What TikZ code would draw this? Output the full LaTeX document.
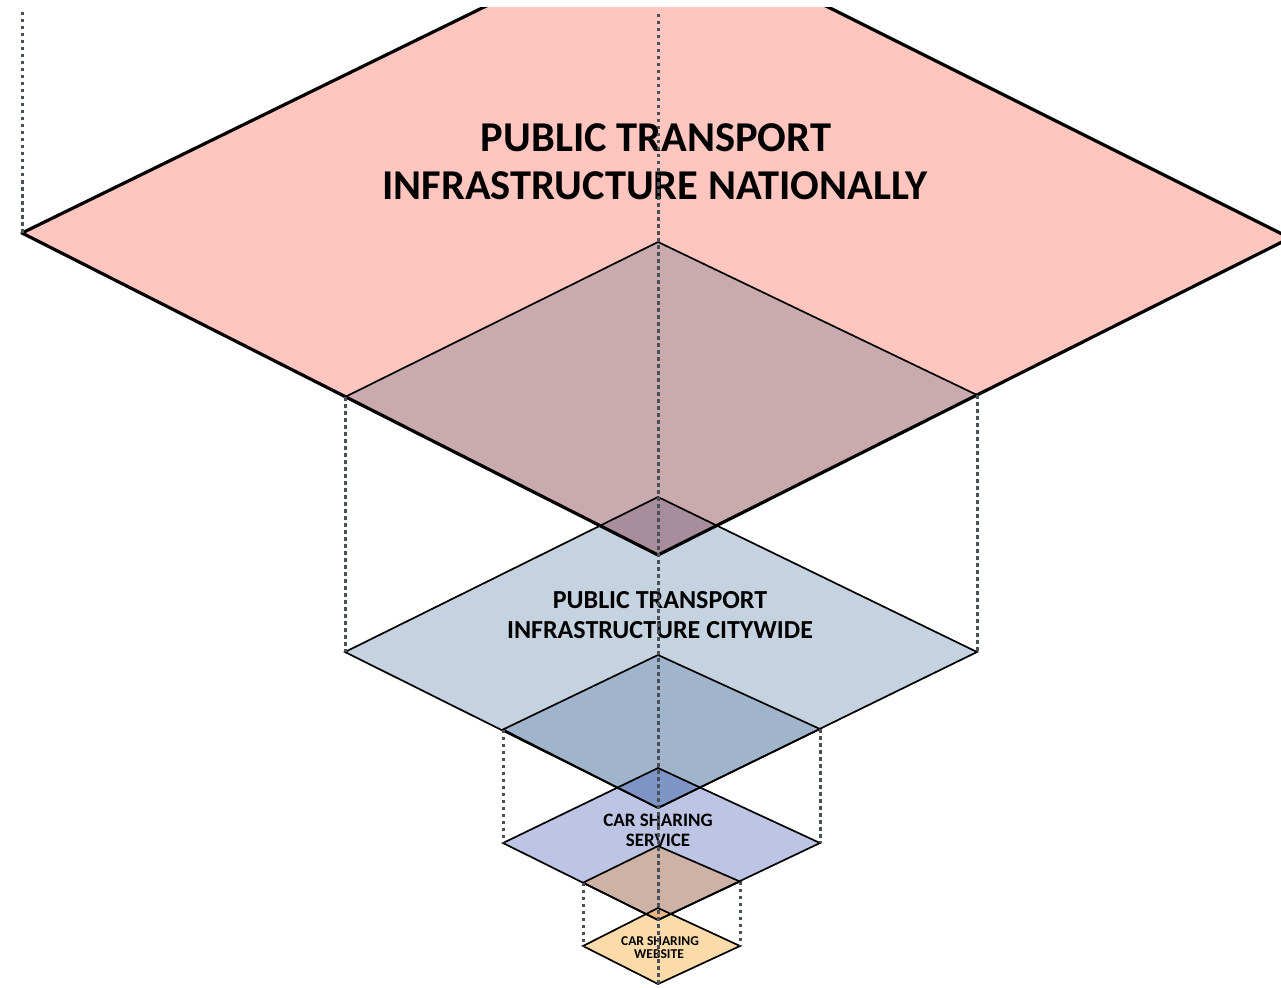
\documentclass[tikz,border=0pt]{standalone}
\usepackage{fontspec}
\setmainfont{Carlito}
\definecolor{cPink}{HTML}{FFC6BF}
\definecolor{cMauve}{HTML}{C9AAAF}
\definecolor{cMauveOv}{HTML}{A88E9C}
\definecolor{cBlue}{HTML}{C5D3E0}
\definecolor{cBlueDk}{HTML}{A0B5CC}
\definecolor{cBlueOv}{HTML}{7E94C5}
\definecolor{cLav}{HTML}{BEC4E4}
\definecolor{cBrown}{HTML}{CDB2A5}
\definecolor{cOrangeOv}{HTML}{E8B67E}
\definecolor{cPeach}{HTML}{FCDBAA}
\definecolor{cDot}{HTML}{4A5058}
\begin{document}
\begin{tikzpicture}[x=1pt,y=-1pt,
  thinout/.style={draw=black,line width=1.7pt,line join=miter},
  thickout/.style={draw=black,line width=3.2pt,line join=round},
  dotline/.style={draw=cDot,line width=3pt,dash pattern=on 3.5pt off 3.5pt},
  lbl/.style={inner sep=0pt,anchor=base,text=black,font=\bfseries}]
\useasboundingbox (0,0) rectangle (1281,987);
% vertices
\coordinate (PT) at (658,-78); \coordinate (PL) at (22,233);
\coordinate (PB) at (658,555); \coordinate (PR) at (1290,238);
\coordinate (MT) at (658,242); \coordinate (ML) at (345,397);
\coordinate (MR) at (977,395);
\coordinate (BT) at (658,497); \coordinate (BL) at (345,652);
\coordinate (BB) at (658,808); \coordinate (BR) at (977,652);
\coordinate (NT) at (658,655); \coordinate (NL) at (503,729.5);
\coordinate (NR) at (820,729);
\coordinate (ST) at (658,768); \coordinate (SL) at (503,843);
\coordinate (SB) at (658,920); \coordinate (SR) at (820,843);
\coordinate (WpT) at (658,846); \coordinate (WpL) at (583,882.7);
\coordinate (WpR) at (740,881.5);
\coordinate (WT) at (658,908); \coordinate (WL) at (583,946);
\coordinate (WB) at (658,984); \coordinate (WR) at (740,946);
\coordinate (topL) at (22,12); \coordinate (topC) at (658,14);
% fills
\begin{scope}
\clip (0,8) rectangle (1281,987);
\fill[cPink] (PT) -- (PL) -- (PB) -- (PR) -- cycle;
\end{scope}
\fill[cMauve] (MT) -- (ML) -- (PB) -- (MR) -- cycle;
\fill[cBlue] (BT) -- (BL) -- (BB) -- (BR) -- cycle;
\begin{scope}
\clip (MT) -- (ML) -- (PB) -- (MR) -- cycle;
\fill[cMauveOv] (BT) -- (BL) -- (BB) -- (BR) -- cycle;
\end{scope}
\fill[cBlueDk] (NT) -- (NL) -- (BB) -- (NR) -- cycle;
\fill[cLav] (ST) -- (SL) -- (SB) -- (SR) -- cycle;
\begin{scope}
\clip (NT) -- (NL) -- (BB) -- (NR) -- cycle;
\fill[cBlueOv] (ST) -- (SL) -- (SB) -- (SR) -- cycle;
\end{scope}
\fill[cBrown] (WpT) -- (WpL) -- (SB) -- (WpR) -- cycle;
\fill[cPeach] (WT) -- (WL) -- (WB) -- (WR) -- cycle;
\begin{scope}
\clip (WpT) -- (WpL) -- (SB) -- (WpR) -- cycle;
\fill[cOrangeOv] (WT) -- (WL) -- (WB) -- (WR) -- cycle;
\end{scope}
% outlines
\draw[thinout] (MT) -- (ML) -- (PB) -- (MR) -- cycle;
\draw[thinout] (BT) -- (BL) -- (BB) -- (BR) -- cycle;
\draw[thinout] (NT) -- (NL) -- (BB) -- (NR) -- cycle;
\draw[thinout] (ST) -- (SL) -- (SB) -- (SR) -- cycle;
\draw[thinout] (WpT) -- (WpL) -- (SB) -- (WpR) -- cycle;
\draw[thinout] (WT) -- (WL) -- (WB) -- (WR) -- cycle;
\begin{scope}
\clip (0,8) rectangle (1281,987);
\draw[thickout] (PT) -- (PL) -- (PB) -- (PR) -- cycle;
\end{scope}
% labels
\node[lbl,font=\bfseries\fontsize{42.5}{48}\selectfont] (nat1) at (656,152) {PUBLIC TRANSPORT};
\node[lbl,font=\bfseries\fontsize{42.5}{48}\selectfont] (nat2) at (655,200) {INFRASTRUCTURE NATIONALLY};
\node[lbl,font=\bfseries\fontsize{26}{30}\selectfont] (city1) at (660,608) {PUBLIC TRANSPORT};
\node[lbl,font=\bfseries\fontsize{26}{30}\selectfont] (city2) at (660,638) {INFRASTRUCTURE CITYWIDE};
\node[lbl,font=\bfseries\fontsize{19}{20}\selectfont] (serv1) at (658,826) {CAR SHARING};
\node[lbl,font=\bfseries\fontsize{19}{20}\selectfont] (serv2) at (658,846) {SERVICE};
\node[lbl,font=\bfseries\fontsize{13.5}{13}\selectfont] (web1) at (660,945) {CAR SHARING};
\node[lbl,font=\bfseries\fontsize{13.5}{13}\selectfont] (web2) at (659,958) {WEBSITE};
% dotted projection lines
\draw[dotline] (topL) -- (PL);
\draw[dotline] (topC) -- (WB);
\draw[dotline] (ML) -- (BL);
\draw[dotline] (MR) -- (BR);
\draw[dotline] (NL) -- (SL);
\draw[dotline] (NR) -- (SR);
\draw[dotline] (WpL) -- (WL);
\draw[dotline] (WpR) -- (WR);
\end{tikzpicture}
\end{document}
